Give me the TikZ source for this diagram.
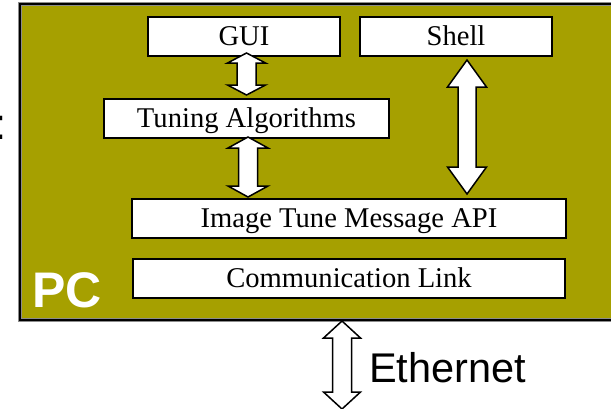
\documentclass[tikz,border=0pt]{standalone}
\usepackage{fontspec}
\setmainfont{Liberation Serif}
\newfontfamily\arialfont{Liberation Sans}
\usetikzlibrary{calc}
\definecolor{pcolive}{RGB}{166,160,0}

% double-headed block arrow from #1 (upper end) to #2 (lower end);
% #3 half shaft width, #4 half head width, #5 head length
\newcommand\dblarrow[5]{%
  \draw[blockarrow] let \p1=(#1), \p2=(#2) in
    (\x1,\y1) -- (\x1+#4,\y1-#5) -- (\x1+#3,\y1-#5) -- (\x1+#3,\y2+#5)
    -- (\x1+#4,\y2+#5) -- (\x1,\y2) -- (\x1-#4,\y2+#5) -- (\x1-#3,\y2+#5)
    -- (\x1-#3,\y1-#5) -- (\x1-#4,\y1-#5) -- cycle;}

\begin{document}
\begin{tikzpicture}[x=1bp,y=-1bp,
  layer/.style={draw=black, line width=1.6bp, fill=white, inner sep=0pt,
    outer sep=0pt, anchor=north west, minimum height=39bp,
    text height=21bp, text depth=3bp,
    font=\fontsize{28.6bp}{30bp}\selectfont},
  blockarrow/.style={draw=black, line width=1.5bp, fill=white, line join=miter},
  sanslabel/.style={inner sep=0pt, anchor=base west}]
\useasboundingbox (0,0) rectangle (611,408);

% PC frame
\node[draw=black!45, line width=3.5bp, fill=pcolive, inner sep=0pt, outer sep=0pt,
      anchor=north west, minimum width=600bp, minimum height=316bp] (pcframe) at (20,4) {};
\node[draw=black, line width=1.8bp, inner sep=0pt, outer sep=0pt,
      anchor=north west, minimum width=600bp, minimum height=316bp] (pc) at (20,4) {};

% software layers
\node[layer, minimum width=192bp] (gui)   at (148,17)  {GUI};
\node[layer, minimum width=192bp] (shell) at (360,17)  {Shell};
\node[layer, minimum width=285bp] (tun)   at (104,99)  {Tuning Algorithms};
\node[layer, minimum width=434bp] (api)   at (132,199) {Image Tune Message API};
\node[layer, minimum width=432bp] (comm)  at (133,259) {Communication Link};

% labels
\node[sanslabel, text=white, font=\arialfont\bfseries\fontsize{50bp}{52bp}\selectfont]
  (pclabel) at (32,307) {PC};
\node[sanslabel, font=\arialfont\fontsize{41.5bp}{44bp}\selectfont]
  (ethlabel) at (369,382) {Ethernet};
\node[sanslabel, font=\arialfont\fontsize{44bp}{46bp}\selectfont]
  (colon) at (-5.5,139) {:};

% connectors
\coordinate (ethend) at ($(comm.south)+(-7,111)$);
\dblarrow{$(gui.south -| tun.north)+(0,-3)$}{$(tun.north)+(0,-4)$}{9.5bp}{19bp}{10bp}
\dblarrow{$(tun.south)+(1.5,-1)$}{$(api.north -| tun.south)+(1.5,-2)$}{9.5bp}{20bp}{11bp}
\dblarrow{$(shell.south)+(11,4)$}{$(api.north -| shell.south)+(11,-5)$}{9bp}{19.5bp}{27bp}
\dblarrow{$(pc.south -| comm.south)+(-7,1)$}{ethend}{9.5bp}{18.5bp}{17bp}
\end{tikzpicture}
\end{document}
